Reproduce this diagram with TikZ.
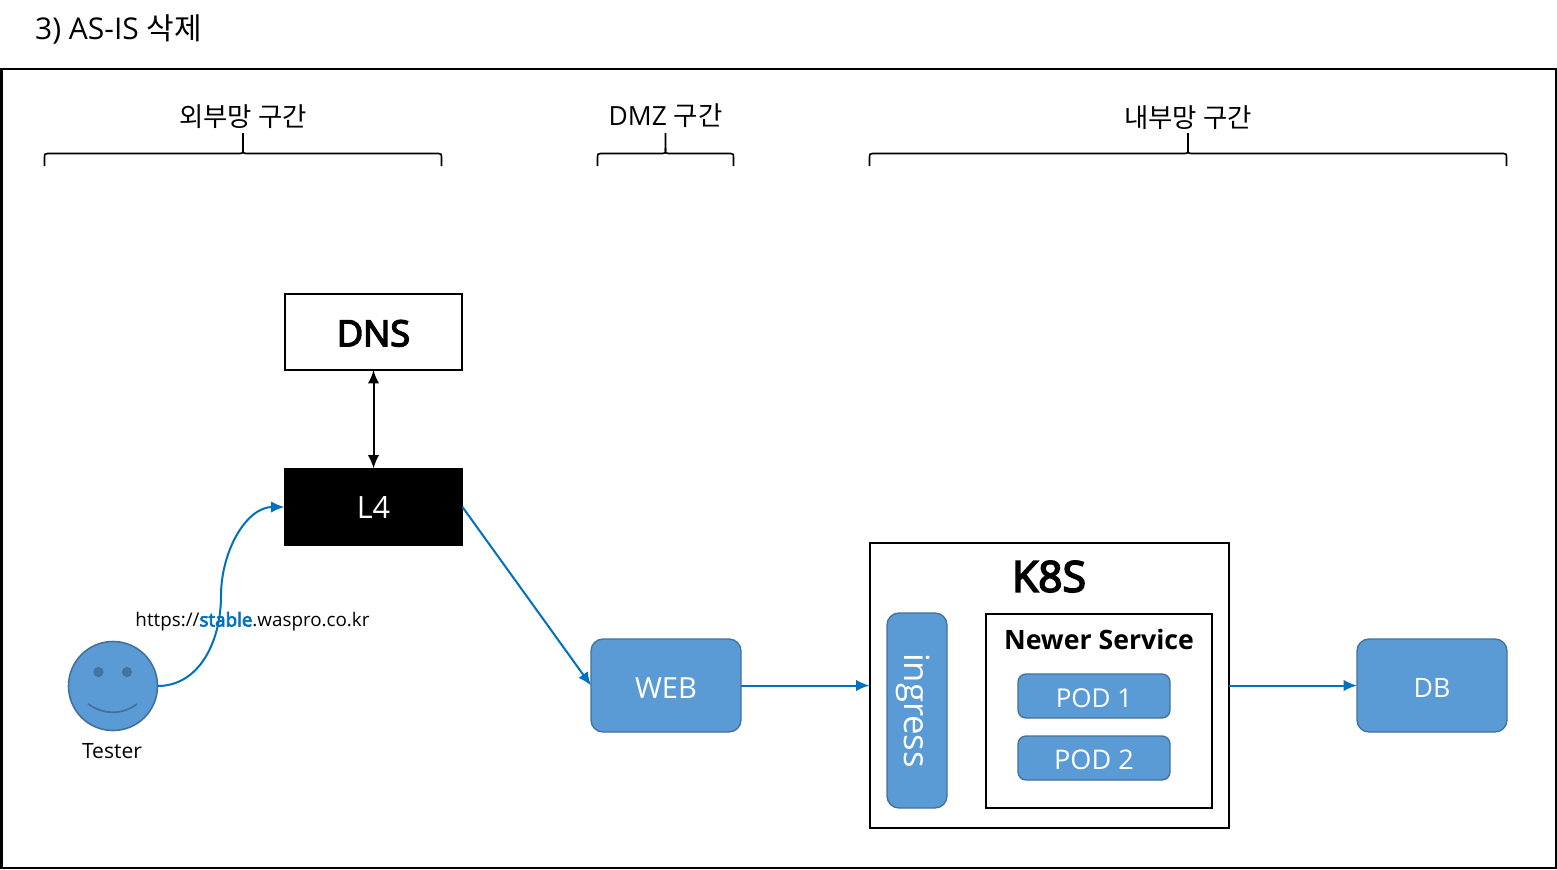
\documentclass[tikz,border=0pt]{standalone}
\usepackage{fontspec}
\setmainfont{Open Sans}
\newfontfamily\kr{Noto Sans CJK KR}
\newfontfamily\medium[FakeBold=4]{Open Sans}
\usetikzlibrary{arrows.meta}
\definecolor{boxblue}{HTML}{5B9BD5}
\definecolor{boxedge}{HTML}{41719C}
\definecolor{linkblue}{HTML}{0070C0}
\newcommand{\dropby}[2]{\raisebox{-#1}[\height][\depth]{#2}}
\tikzset{
  x=0.75pt,y=-0.75pt,
  frame/.style={draw=black,line width=1.5pt,fill=white,inner sep=0pt,outer sep=0pt},
  bluebox/.style={draw=boxedge,line width=1pt,fill=boxblue,rounded corners=9pt,inner sep=0pt,outer sep=0pt,text=white},
  flow/.style={draw=linkblue,line width=1.5pt,-{Latex[length=10pt,width=8.5pt]}},
  bracepath/.style={draw=black,line width=1.2pt},
  lbl/.style={inner sep=0pt,text=black},
}
\newcommand{\zone}[3]{% left, right, mid
  \draw[bracepath] (#1,166) -- (#1,157) .. controls (#1,154) .. (#1+3,153.5) -- (#3-3,153.5) .. controls (#3,153.5) .. (#3,148) -- (#3,133);
  \draw[bracepath] (#3,148) .. controls (#3,153.5) .. (#3+3,153.5) -- (#2-3,153.5) .. controls (#2,154) .. (#2,157) -- (#2,166);
}
\begin{document}
\begin{tikzpicture}
\useasboundingbox (0,0) rectangle (1557,869);
\node[frame,minimum width=1554*0.75pt,minimum height=799*0.75pt] (outer) at (778.5,468) {};
\node[lbl,font=\fontsize{22.5}{26}\selectfont] (title) at (118.5,29) {3) AS-IS {\kr 삭제}};
\node[lbl,font=\fontsize{19.8}{24}\selectfont] (zonea) at (243,116.5) {\kr 외부망 구간};
\node[lbl,font=\fontsize{19.8}{24}\selectfont] (zoneb) at (665.5,116) {DMZ {\kr 구간}};
\node[lbl,font=\fontsize{19.8}{24}\selectfont] (zonec) at (1188,117.5) {\kr 내부망 구간};
\zone{44.5}{441.5}{243}
\zone{597.5}{733.5}{665.5}
\zone{869.5}{1506.5}{1188}
\node[frame,minimum width=177*0.75pt,minimum height=76*0.75pt,font=\fontsize{27}{30}\selectfont\medium] (dns) at (373.5,332) {\dropby{1pt}{DNS}};
\node[draw=black,fill=black,text=white,inner sep=0pt,outer sep=0pt,minimum width=178*0.75pt,minimum height=77*0.75pt,font=\fontsize{23}{26}\selectfont] (l4) at (373.5,507) {L4};
\node[circle,draw=boxedge,line width=1.2pt,fill=boxblue,inner sep=0pt,outer sep=0pt,minimum size=89*0.75pt] (tester) at (113,686) {};
\fill[boxedge!90!boxblue,draw=boxedge] (98.5,672) circle (3.6pt) (127,672) circle (3.6pt);
\draw[boxedge,line width=1.3pt] (88,704) .. controls (104,715) and (122,715) .. (137,704);
\node[lbl,font=\fontsize{15.8}{18}\selectfont] (testerlbl) at (112,751) {Tester};
\node[lbl,font=\fontsize{14.1}{18}\selectfont] (url) at (252.5,621.5) {https://{\color{linkblue}\medium stable}.waspro.co.kr};
\node[bluebox,minimum width=150*0.75pt,minimum height=93*0.75pt,font=\fontsize{21.8}{26}\selectfont] (web) at (666,685.5) {\dropby{2.2pt}{WEB}};
\node[frame,minimum width=359*0.75pt,minimum height=285*0.75pt] (k8s) at (1049,685) {};
\node[lbl,font=\fontsize{32}{36}\selectfont\medium] (k8slbl) at (1049,576.5) {K8S};
\node[bluebox,rotate=-90,minimum width=195*0.75pt,minimum height=60*0.75pt,font=\fontsize{26}{30}\selectfont] (ingress) at (917,710.5) {\dropby{3pt}{ingress}};
\node[frame,minimum width=226*0.75pt,minimum height=194*0.75pt] (svc) at (1099,710.5) {};
\node[lbl,font=\fontsize{20}{24}\selectfont\bfseries] (svclbl) at (1099,639.5) {Newer Service};
\node[bluebox,rounded corners=6pt,minimum width=152*0.75pt,minimum height=44*0.75pt,font=\fontsize{19.5}{24}\selectfont] (pod1) at (1094,696) {\dropby{1.5pt}{POD 1}};
\node[bluebox,rounded corners=6pt,minimum width=152*0.75pt,minimum height=44*0.75pt,font=\fontsize{20.3}{24}\selectfont] (pod2) at (1094,758) {\dropby{1.2pt}{POD 2}};
\node[bluebox,minimum width=150*0.75pt,minimum height=93*0.75pt,font=\fontsize{20}{24}\selectfont] (db) at (1432,685.5) {\dropby{1.5pt}{DB}};
\draw[line width=1.5pt,{Latex[length=10pt,width=8.5pt]}-{Latex[length=10pt,width=8.5pt]}] (dns.south) -- (l4.north);
\coordinate (bend) at (221,596);
\draw[flow] (tester.east) .. controls +(42,0) and +(0,45) .. (bend) .. controls +(0,-45) and +(-38,0) .. (l4.west);
\draw[flow] (l4.east) -- (web.west);
\draw[flow] (web.east) -- (web.east -| k8s.west);
\draw[flow] (db.west -| k8s.east) -- (db.west);
\end{tikzpicture}
\end{document}
